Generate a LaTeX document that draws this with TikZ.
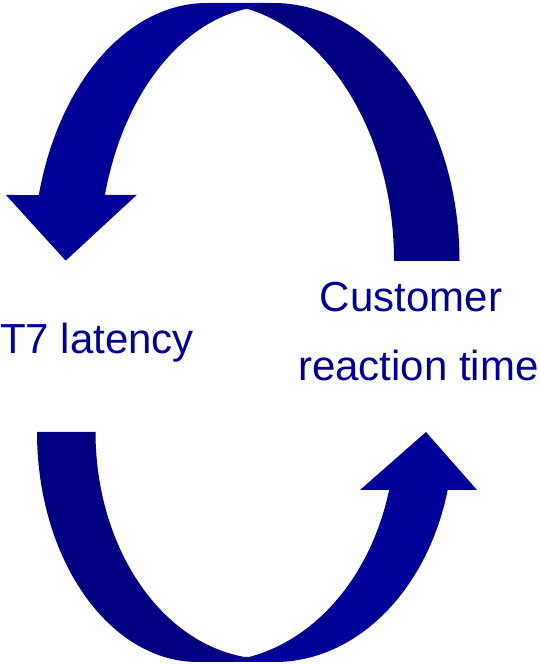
\documentclass[tikz,border=0pt]{standalone}
\usepackage{fontspec}
\setmainfont{Liberation Sans}
\usetikzlibrary{calc}
\definecolor{frontblue}{RGB}{0,0,153}
\definecolor{backblue}{RGB}{0,0,128}
\begin{document}
\begin{tikzpicture}[x=1pt,y=1pt,
  frontpart/.style={fill=frontblue},
  backpart/.style={fill=backblue},
  lbl/.style={inner sep=0pt,text=frontblue,font=\fontsize{42}{50}\selectfont}]
\useasboundingbox (0,0) rectangle (539,664);
\coordinate (ta) at (273.5,403);
\coordinate (tb) at (208,403);
\coordinate (tc) at (207,403);
\coordinate (td) at (272,403);
\coordinate (topcusp) at (246,655);
\coordinate (ba) at (198,232);
\coordinate (bb) at (267.5,232);
\coordinate (bc) at (274.5,232);
\coordinate (bd) at (211,232);
\coordinate (botcusp) at (246,7);
\path[backpart] ($(tb)+(0:186pt and 258pt)$) arc[start angle=0,end angle=77.6,x radius=186pt,y radius=258pt] -- (topcusp) -- (258,661) -- ($(ta)+(90:186pt and 258pt)$) arc[start angle=90,end angle=0,x radius=186pt,y radius=258pt] -- cycle;
\path[frontpart] ($(tc)+(90:174pt and 258pt)$) arc[start angle=90,end angle=165.18,x radius=174pt,y radius=258pt] -- (6,469) -- (65.7,403.3) -- (136.7,469) -- ($(td)+(165:173pt and 255pt)$) arc[start angle=165,end angle=98.9,x radius=173pt,y radius=255pt] -- (topcusp) -- (258,661) -- cycle;
\path[backpart] ($(ba)+(180:161pt and 230pt)$) arc[start angle=180,end angle=270,x radius=161pt,y radius=230pt] -- (234,2) -- (botcusp) -- ($(bb)+(262.4:172pt and 227pt)$) arc[start angle=262.4,end angle=180,x radius=172pt,y radius=227pt] -- cycle;
\path[frontpart] ($(bc)+(270:179pt and 230pt)$) arc[start angle=270,end angle=345.4,x radius=179pt,y radius=230pt] -- (477,174) -- (426,232) -- (360,174) -- ($(bd)+(345.4:184pt and 230pt)$) arc[start angle=345.4,end angle=282,x radius=184pt,y radius=230pt] -- (botcusp) -- (234,2) -- cycle;
\node[lbl,anchor=base west] (latency) at (0,310) {T7 latency};
\node[lbl,anchor=base] (react) at (418.5,283.4) {reaction time};
\node[lbl,anchor=base] (cust) at (411,352.5) {Customer};
\end{tikzpicture}
\end{document}
